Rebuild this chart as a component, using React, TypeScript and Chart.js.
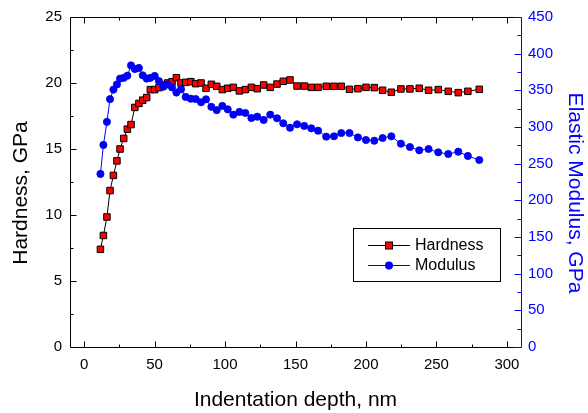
import React, { useEffect, useRef } from "react";
import { Chart, registerables } from "chart.js";

Chart.register(...registerables);

const depth = [
  11.6, 13.7, 16.2, 18.4, 20.8, 23.3, 25.5, 28.1, 30.7, 33.3, 36.0, 38.9, 41.6, 44.4, 47.0, 50.1,
  53.1, 56.3, 59.3, 62.4, 65.5, 68.8, 72.1, 75.7, 79.2, 83.0, 86.5, 90.3, 94.1, 98.1, 101.9, 105.9,
  110.2, 114.4, 118.7, 122.9, 127.4, 132.1, 136.9, 141.3, 146.1, 151.1, 156.2, 161.2, 166.0, 171.8,
  177.3, 182.5, 188.3, 194.3, 200.0, 205.9, 211.8, 218.0, 224.8, 231.2, 237.8, 244.4, 251.3, 258.4,
  265.5, 272.3, 280.4,
];

const hardness = [
  7.4, 8.45, 9.85, 11.85, 13.0, 14.1, 15.0, 15.8, 16.5, 16.85, 18.15, 18.45, 18.7, 18.9, 19.5, 19.5,
  19.65, 19.85, 20.0, 20.1, 20.4, 20.0, 20.05, 20.1, 19.95, 20.0, 19.6, 19.9, 19.75, 19.5, 19.6, 19.67,
  19.4, 19.5, 19.67, 19.57, 19.85, 19.67, 19.92, 20.13, 20.23, 19.77, 19.77, 19.67, 19.67, 19.75,
  19.75, 19.75, 19.52, 19.57, 19.67, 19.65, 19.45, 19.3, 19.55, 19.55, 19.6, 19.45, 19.5, 19.37,
  19.27, 19.37, 19.52,
];

const modulus = [
  236, 275.5, 307, 338, 351, 358, 366, 367, 370, 384, 379, 380.5, 370.5, 366, 367, 369.6,
  362.7, 355, 358, 354, 347, 351.4, 341, 338.6, 338.2, 333.7, 337.8, 327.5, 323, 328.7, 324.1, 316.8,
  320.5, 319.1, 312.3, 314.1, 309.6, 316.8, 311.9, 305.1, 299.1, 303.7, 301.4, 298.2, 295, 286.8,
  287.3, 291.8, 291.8, 285.8, 282.3, 281.3, 285, 287.3, 277.2, 272.7, 268.2, 270, 265.5, 263.2,
  266.3, 260.5, 255,
];

const xMajor = [0, 50, 100, 150, 200, 250, 300];
const xMinor = [25, 75, 125, 175, 225, 275];
const yMajor = [0, 5, 10, 15, 20, 25];
const yMinor = [2.5, 7.5, 12.5, 17.5, 22.5];
const y2Major = [0, 50, 100, 150, 200, 250, 300, 350, 400, 450];
const y2Minor = [25, 75, 125, 175, 225, 275, 325, 375, 425];

const seriesNames = ["Hardness", "Modulus"];
const xTitle = "Indentation depth, nm";
const yTitle = "Hardness, GPa";
const y2Title = "Elastic Modulus, GPa";

const FONT = "'Liberation Sans', Arial, Helvetica, sans-serif";
const BLUE = "#0000ff";
const RED = "#ff0000";

const framePlugin = {
  id: "frameTicks",
  beforeDatasetsDraw(chart: any) {
    const { ctx, chartArea: a, scales } = chart;
    const x = scales.x, y = scales.y, y2 = scales.y2;
    const L = Math.round(a.left) + 0.5, R = Math.round(a.right) + 0.5;
    const T = Math.round(a.top) + 0.5, B = Math.round(a.bottom) + 0.5;
    ctx.save();
    ctx.lineWidth = 1;
    ctx.strokeStyle = "#000";
    ctx.beginPath();
    ctx.moveTo(R, T); ctx.lineTo(L, T); ctx.lineTo(L, B); ctx.lineTo(R, B);
    ctx.stroke();
    const major = 6, minor = 3;
    ctx.beginPath();
    const xt = (v: number, len: number) => {
      const px = Math.round(x.getPixelForValue(v)) + 0.5;
      ctx.moveTo(px, B); ctx.lineTo(px, B - len);
      ctx.moveTo(px, T); ctx.lineTo(px, T + len);
    };
    xMajor.forEach((v) => xt(v, major));
    xMinor.forEach((v) => xt(v, minor));
    const yt = (v: number, len: number) => {
      const py = Math.round(y.getPixelForValue(v)) + 0.5;
      ctx.moveTo(L, py); ctx.lineTo(L + len, py);
    };
    yMajor.forEach((v) => yt(v, major));
    yMinor.forEach((v) => yt(v, minor));
    ctx.stroke();
    ctx.strokeStyle = BLUE;
    ctx.beginPath();
    ctx.moveTo(R, T); ctx.lineTo(R, B);
    const y2t = (v: number, len: number) => {
      const py = Math.round(y2.getPixelForValue(v)) + 0.5;
      ctx.moveTo(R, py); ctx.lineTo(R - len, py);
    };
    y2Major.forEach((v) => y2t(v, 7));
    y2Minor.forEach((v) => y2t(v, 4));
    ctx.stroke();
    ctx.restore();
  },
  afterDraw(chart: any) {
    const { ctx, chartArea: a } = chart;
    ctx.save();
    ctx.font = `21px ${FONT}`;
    ctx.textAlign = "center";
    ctx.textBaseline = "alphabetic";
    ctx.fillStyle = "#000";
    ctx.fillText(xTitle, (a.left + a.right) / 2, 406);
    ctx.save();
    ctx.translate(27, 193);
    ctx.rotate(-Math.PI / 2);
    ctx.fillText(yTitle, 0, 0);
    ctx.restore();
    ctx.save();
    ctx.fillStyle = BLUE;
    ctx.translate(569, 193);
    ctx.rotate(Math.PI / 2);
    ctx.fillText(y2Title, 0, 0);
    ctx.restore();

    // legend
    const bx = 353.5, by = 228.5, bw = 147, bh = 53;
    ctx.strokeStyle = "#000";
    ctx.lineWidth = 1;
    ctx.strokeRect(bx, by, bw, bh);
    const rows = [245, 265];
    rows.forEach((ry, i) => {
      ctx.beginPath();
      ctx.strokeStyle = i === 0 ? "#000" : BLUE;
      ctx.moveTo(368, ry + 0.5);
      ctx.lineTo(410, ry + 0.5);
      ctx.stroke();
      if (i === 0) {
        ctx.fillStyle = RED;
        ctx.fillRect(385.5, ry - 3, 7, 7);
        ctx.strokeStyle = "#000";
        ctx.strokeRect(385.5, ry - 3, 7, 7);
      } else {
        ctx.fillStyle = BLUE;
        ctx.beginPath();
        ctx.arc(389, ry + 0.5, 4, 0, Math.PI * 2);
        ctx.fill();
      }
      ctx.fillStyle = "#000";
      ctx.font = `16px ${FONT}`;
      ctx.textAlign = "left";
      ctx.textBaseline = "middle";
      ctx.fillText(seriesNames[i], 415, ry + 1);
    });
    ctx.restore();
  },
};

export default function App() {
  const ref = useRef<HTMLCanvasElement>(null);
  useEffect(() => {
    const chart = new Chart(ref.current as HTMLCanvasElement, {
      type: "line",
      data: {
        datasets: [
          {
            label: seriesNames[0],
            data: depth.map((d, i) => ({ x: d, y: hardness[i] })),
            yAxisID: "y",
            borderColor: "#000",
            borderWidth: 1,
            pointStyle: "rect",
            pointRadius: 4.6,
            pointBackgroundColor: RED,
            pointBorderColor: "#000",
            pointBorderWidth: 1,
            tension: 0,
            order: 2,
          },
          {
            label: seriesNames[1],
            data: depth.map((d, i) => ({ x: d, y: modulus[i] })),
            yAxisID: "y2",
            borderColor: BLUE,
            borderWidth: 1,
            pointStyle: "circle",
            pointRadius: 3.6,
            pointBackgroundColor: BLUE,
            pointBorderColor: "#0000dd",
            pointBorderWidth: 0.8,
            tension: 0,
            order: 1,
          },
        ],
      } as any,
      options: {
        responsive: false,
        animation: false,
        events: [],
        layout: { padding: { top: 17, left: 0, right: 0, bottom: 0 } },
        plugins: { legend: { display: false }, tooltip: { enabled: false } },
        scales: {
          x: {
            type: "linear",
            min: -10,
            max: 310,
            grid: { display: false, drawTicks: false },
            border: { display: false },
            ticks: { font: { family: FONT, size: 15 }, color: "#000", padding: 9, maxRotation: 0 },
            afterBuildTicks: (s: any) => { s.ticks = xMajor.map((v) => ({ value: v })); },
            afterFit: (s: any) => { s.height = 66; },
          },
          y: {
            type: "linear",
            position: "left",
            min: 0,
            max: 25,
            grid: { display: false, drawTicks: false },
            border: { display: false },
            ticks: { font: { family: FONT, size: 15 }, color: "#000", padding: 8 },
            afterBuildTicks: (s: any) => { s.ticks = yMajor.map((v) => ({ value: v })); },
            afterFit: (s: any) => { s.width = 70; },
          },
          y2: {
            type: "linear",
            position: "right",
            min: 0,
            max: 450,
            grid: { display: false, drawTicks: false },
            border: { display: false },
            ticks: { font: { family: FONT, size: 15 }, color: BLUE, padding: 7 },
            afterBuildTicks: (s: any) => { s.ticks = y2Major.map((v) => ({ value: v })); },
            afterFit: (s: any) => { s.width = 67; },
          },
        },
      } as any,
      plugins: [framePlugin],
    });
    return () => chart.destroy();
  }, []);
  return (
    <div style={{ position: "fixed", left: 0, top: 0, width: 588, height: 413, background: "#fff" }}>
      <canvas ref={ref} width={588} height={413} style={{ display: "block" }} />
    </div>
  );
}
